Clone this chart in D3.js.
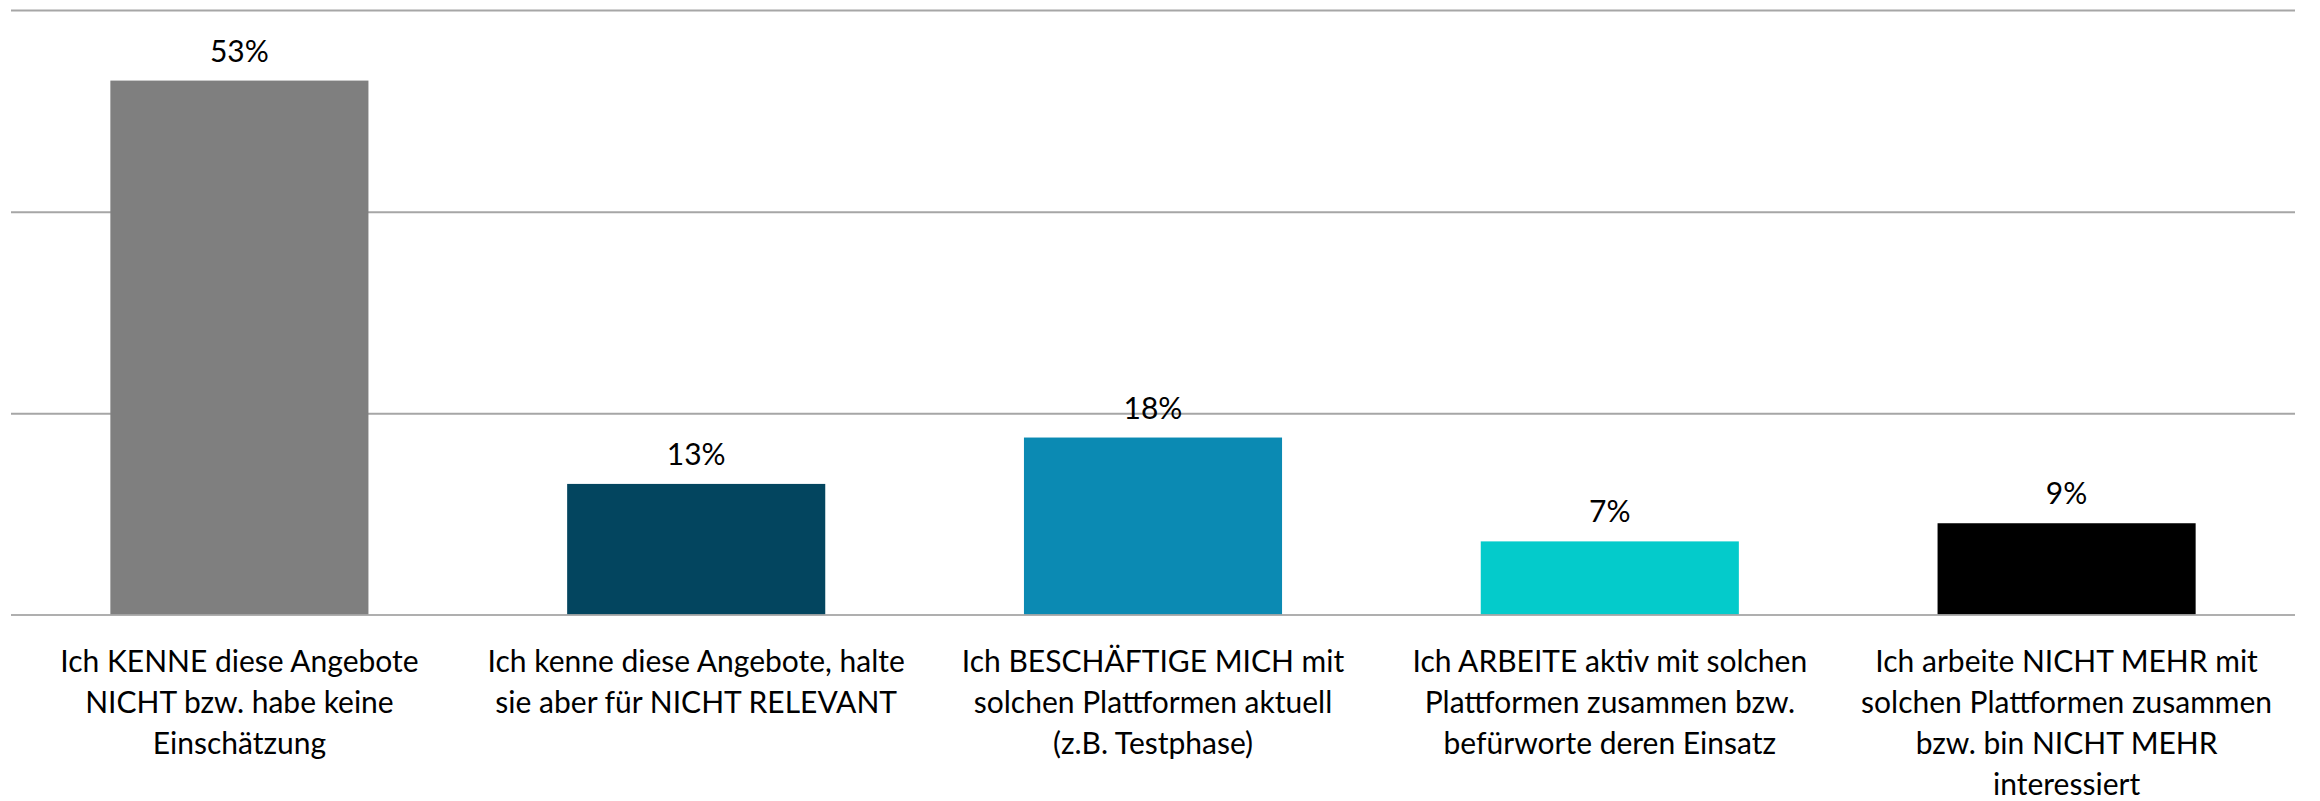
<!DOCTYPE html>
<html>
<head>
<meta charset="utf-8">
<script src="https://cdn.jsdelivr.net/npm/d3@7"></script>
<style>
  body { margin: 0; background: #fff; }
  svg { display: block; font-family: Lato, "Noto Sans", sans-serif; }
  .value-label, .cat-label { font-size: 30px; fill: #000; }
</style>
</head>
<body>
<script>
// data (labels show rounded values)
var categories = [
  "Ich KENNE diese Angebote\nNICHT bzw. habe keine\nEinschätzung",
  "Ich kenne diese Angebote, halte\nsie aber für NICHT RELEVANT",
  "Ich BESCHÄFTIGE MICH mit\nsolchen Plattformen aktuell\n(z.B. Testphase)",
  "Ich ARBEITE aktiv mit solchen\nPlattformen zusammen bzw.\nbefürworte deren Einsatz",
  "Ich arbeite NICHT MEHR mit\nsolchen Plattformen zusammen\nbzw. bin NICHT MEHR\ninteressiert"
];
var values = [53, 13, 17.6, 7.3, 9.1];
var barColors = ["#7f7f7f", "#03455f", "#0b8ab3", "#04cbcb", "#000000"];
var gridTicks = [0, 20, 40, 60];

// set the dimensions and margins of the graph
var margin = {top: 10, right: 25, bottom: 186, left: 11},
    width = 2320 - margin.left - margin.right,
    height = 801 - margin.top - margin.bottom;

// set the ranges
var x = d3.scaleBand().domain(d3.range(categories.length)).range([0, width]).paddingInner(0.435).paddingOuter(0.2175);
var y = d3.scaleLinear().domain([0, 60]).range([height, 0]);

var svg = d3.select("body").append("svg")
    .attr("width", 2320)
    .attr("height", 801)
  .append("g")
    .attr("transform", "translate(" + margin.left + "," + margin.top + ")");

// gridlines
svg.append("g")
    .attr("class", "grid")
    .call(d3.axisLeft(y).tickValues(gridTicks.slice(1)).tickSize(-width).tickFormat(""))
    .call(function(g) { g.select(".domain").remove(); })
    .selectAll("line")
    .attr("stroke", "#a6a6a6")
    .attr("stroke-width", 2);

// bars
svg.selectAll(".bar")
    .data(values)
  .enter().append("rect")
    .attr("class", "bar")
    .attr("x", function(d, i) { return x(i); })
    .attr("width", x.bandwidth())
    .attr("y", function(d) { return y(d); })
    .attr("height", function(d) { return height - y(d); })
    .attr("fill", function(d, i) { return barColors[i]; });

// baseline on top of the bars
svg.append("line")
    .attr("x1", 0)
    .attr("x2", width)
    .attr("y1", y(0))
    .attr("y2", y(0))
    .attr("stroke", "#a6a6a6")
    .attr("stroke-opacity", 0.9)
    .attr("stroke-width", 2);

// value labels
svg.selectAll(".value-label")
    .data(values)
  .enter().append("text")
    .attr("class", "value-label")
    .attr("x", function(d, i) { return x(i) + x.bandwidth() / 2; })
    .attr("y", function(d) { return y(d) - 19; })
    .attr("text-anchor", "middle")
    .text(function(d) { return Math.round(d) + "%"; });

// category labels
var cat = svg.selectAll(".cat-label")
    .data(categories)
  .enter().append("text")
    .attr("class", "cat-label")
    .attr("text-anchor", "middle")
    .attr("transform", function(d, i) {
      return "translate(" + (x(i) + x.bandwidth() / 2) + "," + (height + 57) + ")";
    });

cat.selectAll("tspan")
    .data(function(d) { return d.split("\n"); })
  .enter().append("tspan")
    .attr("x", 0)
    .attr("y", function(d, j) { return j * 41; })
    .text(function(d) { return d; });
</script>
</body>
</html>
